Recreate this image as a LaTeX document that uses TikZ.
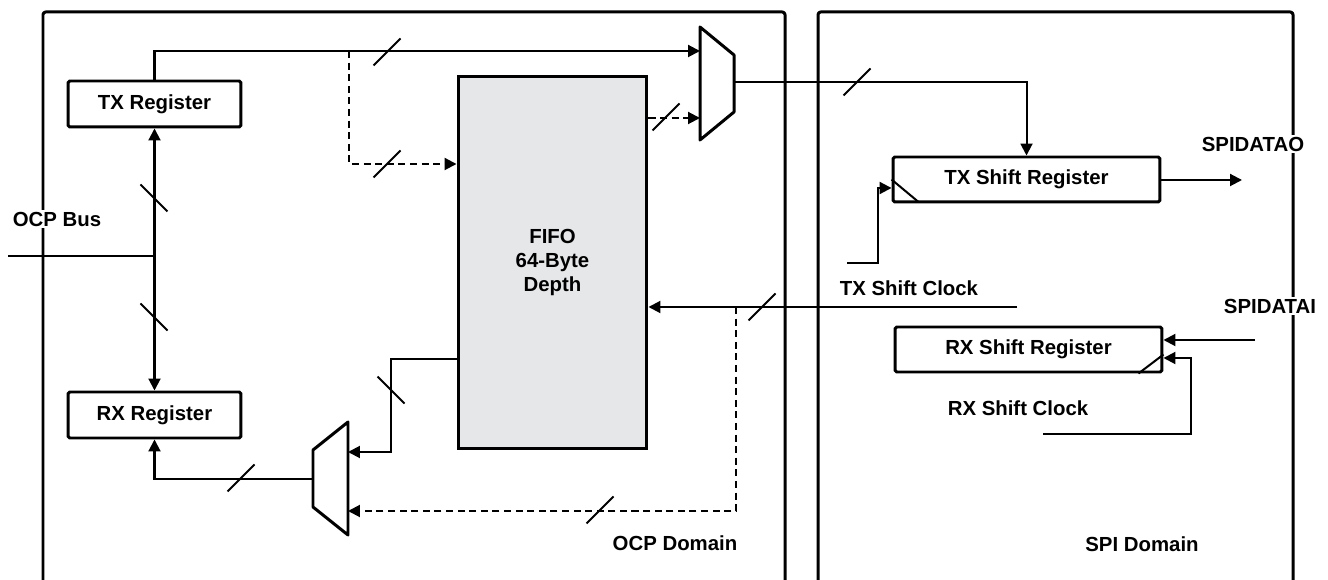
\documentclass[tikz,border=0pt]{standalone}
\usepackage{fontspec}
\setmainfont{Liberation Sans}
\usepackage{xcolor}
\usepackage{tikz}
\usetikzlibrary{arrows.meta}
\definecolor{fifogray}{RGB}{230,231,233}
\newcommand{\boxfont}{\fontsize{11.6}{13.6}\selectfont\bfseries}
\tikzstyle{reg}=[rectangle, rounded corners=1pt, draw, line width=1.7pt,
  minimum width=3.46cm, minimum height=0.92cm, inner sep=0pt, font=\boxfont]
\tikzstyle{shiftreg}=[reg, minimum width=5.34cm, minimum height=0.9cm]
\tikzstyle{fifo}=[rectangle, draw, line width=1.7pt, fill=fifogray,
  minimum width=3.78cm, minimum height=7.46cm, align=center, font=\boxfont]
\tikzstyle{lbl}=[fill=white, inner sep=1pt, font=\boxfont]
\tikzstyle{bus}=[line width=1.15pt]
\tikzstyle{dbus}=[bus, dash pattern=on 4pt off 2.6pt]
\tikzstyle{arrow}=[bus, -{Triangle[length=6.8pt,width=6.8pt]}]
\tikzstyle{outline}=[line width=1.7pt, line join=round]

\begin{document}
\begin{tikzpicture}[x=0.02cm, y=-0.02cm]
    \useasboundingbox (0,0) rectangle (1328,580);

    % Domains
    \draw[outline, rounded corners=1.5pt] (43,580) |- (785,12) -- (785,580);
    \draw[outline, rounded corners=1.5pt] (818,580) |- (1293,12) -- (1293,580);

    % OCP side
    \node[reg] (txreg) at (154.5,104) {TX Register};
    \node[reg] (rxreg) at (154.5,415) {RX Register};
    \node[fifo] (fifo) at (552.5,262.5) {FIFO\\64-Byte\\Depth};

    % muxes
    \draw[outline] (700,27) -- (734,55) -- (734,112) -- (700,140) -- cycle;
    \coordinate (txmuxa) at (700,51);
    \coordinate (txmuxb) at (700,118);
    \coordinate (txmuxout) at (734,82);
    \draw[outline] (348,422) -- (313,450) -- (313,507) -- (348,535) -- cycle;
    \coordinate (rxmuxa) at (348,452);
    \coordinate (rxmuxb) at (348,511);
    \coordinate (rxmuxout) at (313,479);

    % SPI side
    \node[shiftreg] (txshift) at (1026.5,179.5) {TX Shift Register};
    \node[shiftreg] (rxshift) at (1028.5,349.5) {RX Shift Register};
    \draw[bus] (txshift.west) -- ++(27,22.5);
    \draw[bus] (rxshift.south east) ++(-25,0) -- ++(25,-19);

    \coordinate (ocpin) at (8,256);
    \coordinate (txtap) at (349,51);
    \coordinate (txout) at (1242,180);
    \coordinate (txclk) at (847,263);
    \coordinate (rxin) at (1017,307);
    \coordinate (rxtap) at (736,307);
    \coordinate (spiin) at (1255,340);
    \coordinate (rxclk) at (1043,434);

    % connectors
    \draw[bus] (ocpin) -- (ocpin -| txreg.south);
    \draw[bus, {Triangle[length=6.8pt,width=6.8pt]}-{Triangle[length=6.8pt,width=6.8pt]}]
      (txreg.south) -- (rxreg.north);
    \draw[arrow] (txreg.north) |- (txmuxa);
    \draw[dbus, -{Triangle[length=6.8pt,width=6.8pt]}] (txtap) |- (fifo.west |- 0,164);
    \draw[dbus, -{Triangle[length=6.8pt,width=6.8pt]}] (fifo.east |- txmuxb) -- (txmuxb);
    \draw[arrow] (txmuxout) -| (txshift.north);
    \draw[arrow] (txshift.east |- txout) -- (txout);
    \draw[arrow] (txclk) -- ++(31,0) |- (txshift.west |- 0,188);
    \draw[arrow] (rxin) -- (fifo.east |- rxin);
    \draw[dbus, -{Triangle[length=6.8pt,width=6.8pt]}] (rxtap) |- (rxmuxb);
    \draw[arrow] (fifo.west |- 0,359) -- ++(-66,0) |- (rxmuxa);
    \draw[arrow] (rxmuxout) -| (rxreg.south);
    \draw[arrow] (spiin) -- (rxshift.east |- spiin);
    \draw[arrow] (rxclk) -- ++(148,0) |- (rxshift.east |- 0,358);

    % bus width marks
    \foreach \p in {{387,52},{387,164},{666,117},{857,82},{762,307},{600,510},{241,478}}
      \draw[bus] (\p) ++(-13.5,13.5) -- ++(27,-27);
    \foreach \p in {{154,198},{154,317},{391,390}}
      \draw[bus] (\p) ++(-13.5,-13.5) -- ++(27,27);

    % labels
    \node[lbl] (ocpbus) at (57,219) {OCP Bus};
    \node[lbl] (spidatao) at (1253,144) {SPIDATAO};
    \node[lbl] (spidatai) at (1270,306) {SPIDATAI};
    \node[lbl] (txclklbl) at (909,288) {TX Shift Clock};
    \node[lbl] (rxclklbl) at (1018,408) {RX Shift Clock};
    \node[lbl] (ocpdom) at (675,543) {OCP Domain};
    \node[lbl] (spidom) at (1142,544) {SPI Domain};

  \end{tikzpicture}
\end{document}
